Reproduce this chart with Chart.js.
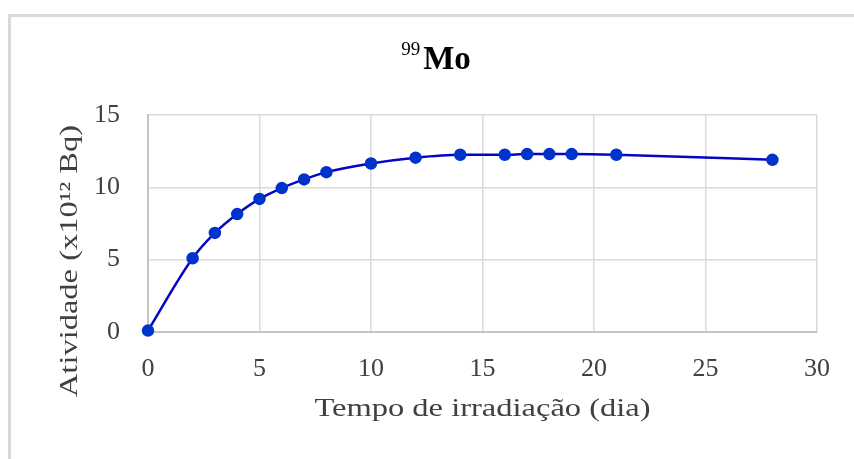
<!DOCTYPE html>
<html>
<head>
<meta charset="utf-8">
<script src="https://cdn.jsdelivr.net/npm/chart.js@4"></script>
<style>
  html, body { margin: 0; padding: 0; background: #fff; }
  #wrap { width: 854px; height: 459px; }
</style>
</head>
<body>
<div id="wrap"><canvas id="moChart" width="854" height="459"></canvas></div>
<script>
// irradiation time (days) and activity (x10^12 Bq)
const days = [0, 2, 3, 4, 5, 6, 7, 8, 10, 12, 14, 16, 17, 18, 19, 21, 28];
const activity = [0.1, 5.1, 6.85, 8.15, 9.2, 9.95, 10.55, 11.05, 11.65, 12.05, 12.25, 12.25, 12.3, 12.3, 12.3, 12.25, 11.9];
const xTicks = [0, 5, 10, 15, 20, 25, 30];
const yTicks = [0, 5, 10, 15];

const chartTitle = "Mo";
const titleSup = "99";
const xTitle = "Tempo de irradiação (dia)";
const yTitle = "Atividade (x10¹² Bq)";

const serif = "'Liberation Serif', 'Times New Roman', serif";

const points = days.map((d, i) => ({ x: d, y: activity[i] }));

// frame, title and axis titles drawn on the canvas
const textPlugin = {
    id: "texts",
    beforeDraw(chart) {
        const ctx = chart.ctx;
        ctx.save();
        ctx.strokeStyle = "#d9d9d9";
        ctx.lineWidth = 3;
        ctx.strokeRect(9.5, 15.5, 900, 500);
        ctx.restore();
    },
    afterDraw(chart) {
        const ctx = chart.ctx;
        const area = chart.chartArea;
        ctx.save();

        // title with superscript mass number
        ctx.fillStyle = "#000";
        ctx.textBaseline = "alphabetic";
        ctx.textAlign = "left";
        ctx.font = "bold 33px " + serif;
        const wMo = ctx.measureText(chartTitle).width;
        ctx.font = "19px " + serif;
        const wSup = ctx.measureText(titleSup).width;
        const startX = 436 - (wMo + wSup + 3) / 2;
        ctx.fillText(titleSup, startX, 55);
        ctx.font = "bold 33px " + serif;
        ctx.fillText(chartTitle, startX + wSup + 3, 69);

        // x axis title
        ctx.fillStyle = "#404040";
        ctx.font = "25px " + serif;
        ctx.textAlign = "center";
        ctx.save();
        ctx.translate((area.left + area.right) / 2, 416);
        ctx.scale(1.3, 1);
        ctx.fillText(xTitle, 0, 0);
        ctx.restore();

        // y axis title
        ctx.save();
        ctx.translate(77, 261);
        ctx.rotate(-Math.PI / 2);
        ctx.scale(1.3, 1);
        ctx.fillText(yTitle, 0, 0);
        ctx.restore();

        ctx.restore();
    }
};

const ctx = document.getElementById("moChart").getContext("2d");

new Chart(ctx, {
    type: "line",
    data: {
        datasets: [{
            data: points,
            borderColor: "#0505c8",
            borderWidth: 2.5,
            backgroundColor: "#0033cc",
            pointBackgroundColor: "#0033cc",
            pointBorderColor: "#0033cc",
            pointRadius: 5,
            cubicInterpolationMode: "monotone",
            clip: false
        }]
    },
    options: {
        responsive: false,
        animation: false,
        layout: { padding: { top: 115, right: 37, left: 0, bottom: 0 } },
        plugins: {
            legend: { display: false },
            title: { display: false },
            tooltip: { enabled: false }
        },
        scales: {
            x: {
                type: "linear",
                min: 0,
                max: 30,
                afterBuildTicks: axis => { axis.ticks = xTicks.map(v => ({ value: v })); },
                afterFit: axis => { axis.height = 127; },
                grid: { color: "#d9d9d9", lineWidth: 1.5, drawTicks: false },
                border: { color: "#c4c4c4", width: 2 },
                ticks: {
                    padding: 22,
                    color: "#404040",
                    font: { family: serif, size: 26 }
                }
            },
            y: {
                min: 0,
                max: 15,
                afterBuildTicks: axis => { axis.ticks = yTicks.map(v => ({ value: v })); },
                afterFit: axis => { axis.width = 148; },
                grid: { color: "#d9d9d9", lineWidth: 1.5, drawTicks: false },
                border: { color: "#c4c4c4", width: 2 },
                ticks: {
                    padding: 28,
                    color: "#404040",
                    font: { family: serif, size: 26 }
                }
            }
        }
    },
    plugins: [textPlugin]
});
</script>
</body>
</html>
